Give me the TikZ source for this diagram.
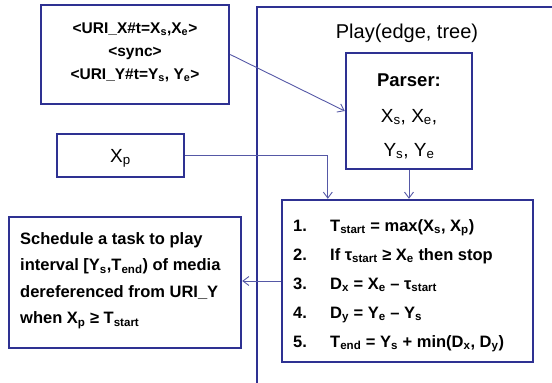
\documentclass[tikz,border=0pt]{standalone}
\usepackage{fontspec}
\setmainfont{Liberation Sans}
\usetikzlibrary{arrows.meta}
\definecolor{boxblue}{HTML}{2E3192}
\definecolor{wireblue}{HTML}{5558A6}
\newcommand{\lo}[1]{\textsubscript{#1}}
\tikzset{
  frame/.style={draw=boxblue, line width=2.4pt, rectangle, inner sep=0pt},
  wire/.style={draw=wireblue, line width=0.9pt},
  feed/.style={wire, -{Straight Barb[length=6pt,width=9pt]}},
  uritext/.style={inner sep=0pt, anchor=base, font=\fontsize{15.5}{18}\selectfont\bfseries},
  titletext/.style={inner sep=0pt, font=\fontsize{20}{24}\selectfont},
  parsetext/.style={inner sep=0pt, anchor=base, font=\fontsize{19}{22}\selectfont},
  steptext/.style={inner sep=0pt, anchor=base west, font=\fontsize{16.5}{20}\selectfont\bfseries},
}
\begin{document}
\begin{tikzpicture}[x=1pt,y=-1pt]
\useasboundingbox (0,0) rectangle (552,383);
% Play frame, cut by the page edge
\draw[boxblue, line width=2.4pt] (257,400) -- (257,7) -- (560,7);
\node[titletext] (title) at (407,33) {Play(edge, tree)};

% boxes
\node[frame, minimum width=188pt, minimum height=99pt] (uri) at (135,54.5) {};
\node[frame, minimum width=127pt, minimum height=43pt] (xp) at (120.5,155.5) {};
\node[frame, minimum width=126pt, minimum height=116pt] (parser) at (409,111) {};
\node[frame, minimum width=251pt, minimum height=162pt] (steps) at (407.5,281) {};
\node[frame, minimum width=232pt, minimum height=131pt] (sched) at (125,282.5) {};

% texts
\node[uritext] (uri1) at (135,33.5) {<URI\_X\#t=X\lo{s},X\lo{e}>};
\node[uritext] (uri2) at (135,56.5) {<sync>};
\node[uritext] (uri3) at (135,79.5) {<URI\_Y\#t=Y\lo{s}, Y\lo{e}>};

\node[parsetext, font=\fontsize{18.5}{22}\selectfont\bfseries] (parse1) at (409,86.5) {Parser:};
\node[parsetext] (parse2) at (409,122) {X\lo{s}, X\lo{e},};
\node[parsetext] (parse3) at (409,156) {Y\lo{s}, Y\lo{e}};

\node[parsetext] (xpname) at (120.5,162) {X\lo{p}};

\foreach \n/\txt [count=\i] in {
  1/{T\lo{start} = max(X\lo{s}, X\lo{p})},
  2/{If τ\lo{start} ≥ X\lo{e} then stop},
  3/{D\lo{x} = X\lo{e} – τ\lo{start}},
  4/{D\lo{y} = Y\lo{e} – Y\lo{s}},
  5/{T\lo{end} = Y\lo{s} + min(D\lo{x}, D\lo{y})}}
{
  \node[steptext] (num\i) at (293,{231+29*(\i-1)}) {\n.};
  \node[steptext] (line\i) at (330,{231+29*(\i-1)}) {\txt};
}

\foreach \txt [count=\i] in {
  Schedule a task to play,
  {interval [Y\lo{s},T\lo{end}) of media},
  dereferenced from URI\_Y,
  {when X\lo{p} ≥ T\lo{start}}}
{
  \node[steptext] (task\i) at (20,{244+26.5*(\i-1)}) {\txt};
}

% connectors
\draw[feed] (uri.east) -- (parser.west);
\draw[feed] (xp.east) -| ([xshift=47pt]steps.north west);
\draw[feed] (parser.south) -- (parser.south |- steps.north);
\draw[feed] (steps.west) -- (steps.west -| sched.east);
\end{tikzpicture}
\end{document}
